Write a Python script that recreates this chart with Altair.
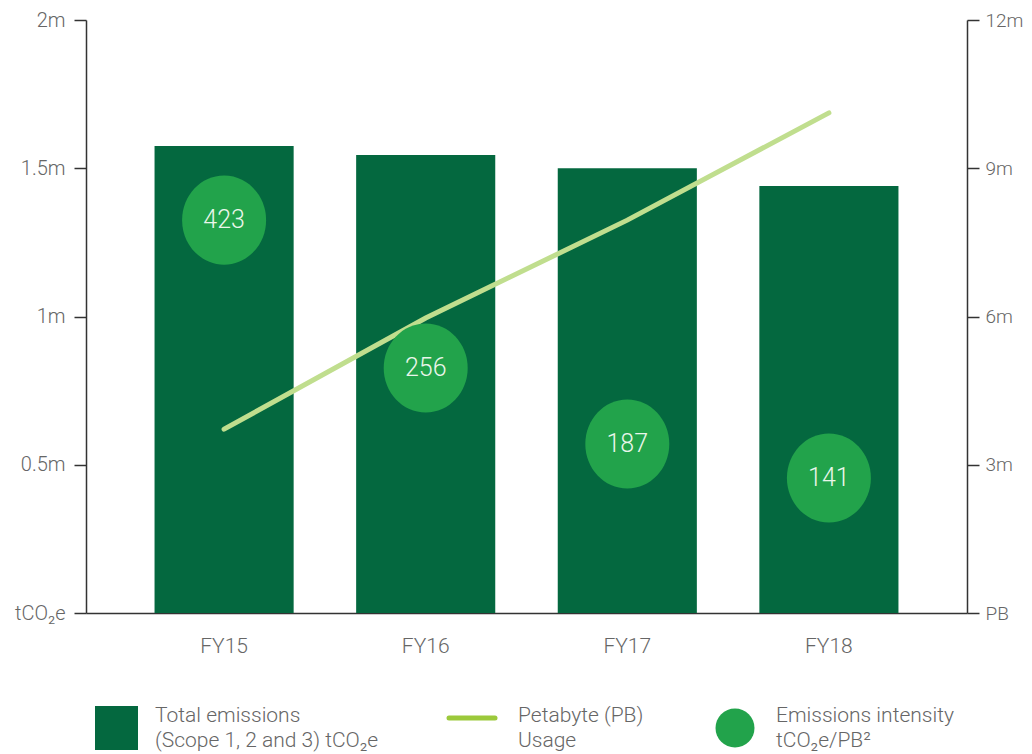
import altair as alt
import pandas as pd

years = ["FY15", "FY16", "FY17", "FY18"]
emissions = [1575000, 1545000, 1500000, 1440000]          # tCO2e (left axis)
petabytes = [3.72, 5.97, 7.95, 10.12]                     # PB usage (right axis, "m")
intensity = [423, 256, 187, 141]                          # tCO2e/PB2 labels
intensity_pos = [1325000, 826000, 570000, 455000]         # bubble placement on left axis

legend_labels = [
    "Total emissions\n(Scope 1, 2 and 3) tCO₂e",
    "Petabyte (PB)\nUsage",
    "Emissions intensity\ntCO₂e/PB²",
]

df = pd.DataFrame({
    "year": years,
    "emissions": emissions,
    "pb": petabytes,
    "intensity": intensity,
    "ipos": intensity_pos,
})
dummy = pd.DataFrame({"a": [0]})

FONT = "Roboto"
DARK = "#04683f"
BUBBLE = "#22a34b"
LINE = "#c0de8e"
LEG_LINE = "#9cc93b"
TXT = "#666666"
AX = "#333333"

W, H = 881, 593

xenc = alt.X("year:N", sort=years,
             scale=alt.Scale(paddingInner=0.31, paddingOuter=0.34),
             axis=alt.Axis(title=None, ticks=False, labelFontSize=21, labelColor=TXT,
                           labelFont=FONT, labelFontWeight=300, labelPadding=22,
                           labelAngle=0, domainColor=AX, domainWidth=1.5))

left_scale = alt.Scale(domain=[0, 2000000], nice=False, zero=True)
right_scale = alt.Scale(domain=[0, 12], nice=False, zero=True)

bars = alt.Chart(df).mark_bar(color=DARK).encode(
    x=xenc,
    y=alt.Y("emissions:Q", scale=left_scale,
            axis=alt.Axis(title=None, orient="left", values=[0, 500000, 1000000, 1500000, 2000000],
                          labelExpr="datum.value == 0 ? 'tCO₂e' : (datum.value / 1000000) + 'm'",
                          grid=False, tickSize=12, tickColor=AX, tickWidth=1.5,
                          domainColor=AX, domainWidth=1.5, labelPadding=9,
                          labelFontSize=20, labelColor=TXT, labelFont=FONT, labelFontWeight=300)),
)

line = alt.Chart(df).mark_line(color=LINE, strokeWidth=5, strokeCap="round").encode(
    x=alt.X("year:N", sort=years),
    y=alt.Y("pb:Q", scale=right_scale,
            axis=alt.Axis(title=None, orient="right", values=[0, 3, 6, 9, 12],
                          labelExpr="datum.value == 0 ? 'PB' : datum.value + 'm'",
                          grid=False, tickSize=12, tickColor=AX, tickWidth=1.5,
                          domainColor=AX, domainWidth=1.5, labelPadding=6,
                          labelFontSize=19, labelColor=TXT, labelFont=FONT, labelFontWeight=300)),
)

bubbles = alt.Chart(df).mark_point(
    shape="M -1 0 A 1 1.06 0 1 0 1 0 A 1 1.06 0 1 0 -1 0 Z",
    filled=True, color=BUBBLE, opacity=1, size=7056,
).encode(
    x=alt.X("year:N", sort=years),
    y=alt.Y("ipos:Q", scale=left_scale, axis=None),
)

btext = alt.Chart(df).mark_text(
    font=FONT, fontWeight=300, fontSize=25, color="#eaf6ea", baseline="middle", align="center"
).encode(
    x=alt.X("year:N", sort=years),
    y=alt.Y("ipos:Q", scale=left_scale, axis=None),
    text="intensity:N",
)

main = alt.layer(bars, line, bubbles, btext).resolve_scale(y="independent")

# Legend (drawn manually below the plot)
leg_sq = alt.Chart(dummy).mark_rect(color=DARK).encode(
    x=alt.value(9), x2=alt.value(52), y=alt.value(686), y2=alt.value(730))
leg_line = alt.Chart(dummy).mark_rule(color=LEG_LINE, strokeWidth=5, strokeCap="round").encode(
    x=alt.value(363), x2=alt.value(409), y=alt.value(698))
leg_circ = alt.Chart(dummy).mark_point(shape="circle", filled=True, color=BUBBLE, opacity=1,
                                       size=1520).encode(x=alt.value(649), y=alt.value(708))

leg_texts = []
for lbl, xp in zip(legend_labels, [69, 432, 690]):
    leg_texts.append(
        alt.Chart(pd.DataFrame({"t": [lbl]})).mark_text(
            font=FONT, fontWeight=300, fontSize=21, color=TXT, align="left",
            baseline="middle", lineBreak="\n", lineHeight=25,
        ).encode(x=alt.value(xp), y=alt.value(696), text="t:N")
    )

chart = alt.layer(main, leg_sq, leg_line, leg_circ, *leg_texts).properties(
    width=W, height=H,
    padding={"left": 78, "top": 12, "right": 57, "bottom": 141},
    autosize=alt.AutoSizeParams(type="none"),
    background="white",
).configure_view(stroke=None)

chart.save("out.html", embed_options={"renderer": "svg", "actions": False})
